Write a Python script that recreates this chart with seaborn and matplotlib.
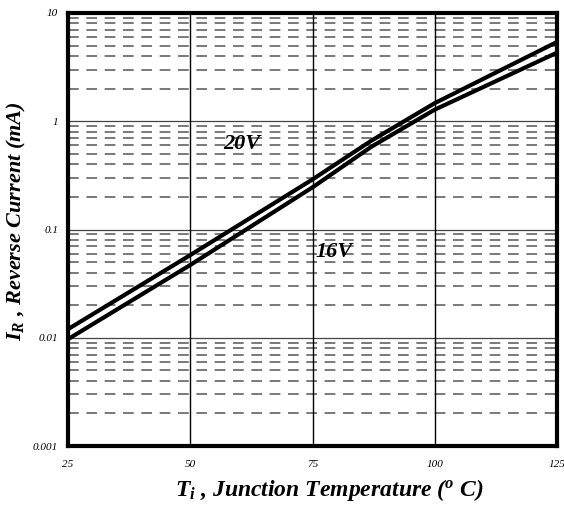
import numpy as np
import matplotlib
matplotlib.use("Agg")
import matplotlib.pyplot as plt
import seaborn as sns
import pandas as pd

# data
temps = [25, 50, 75, 87, 100, 125]
ir_20v = [0.012, 0.058, 0.29, 0.66, 1.47, 5.4]
ir_16v = [0.0097, 0.047, 0.245, 0.58, 1.28, 4.3]
series_names = ["20V", "16V"]
label_pos = {"20V": (60.5, 0.62), "16V": (79.5, 0.062)}
x_ticks = [25, 50, 75, 100, 125]
y_ticks = [0.001, 0.01, 0.1, 1, 10]
y_ticklabels = ["0.001", "0.01", "0.1", "1", "10"]

sns.set_style("white")
plt.rcParams["font.family"] = ["Liberation Serif", "DejaVu Serif"]
plt.rcParams["mathtext.fontset"] = "custom"
plt.rcParams["mathtext.it"] = "Liberation Serif:bold:italic"
plt.rcParams["mathtext.rm"] = "Liberation Serif:bold:italic"
for key in ["text.color", "axes.labelcolor", "xtick.color", "ytick.color"]:
    plt.rcParams[key] = "black"

df = pd.DataFrame({
    "T": temps * 2,
    "IR": ir_20v + ir_16v,
    "V": [series_names[0]] * len(temps) + [series_names[1]] * len(temps),
})

fig = plt.figure(figsize=(5.64, 5.08), dpi=100)
ax = fig.add_axes([68 / 564, 1 - 446 / 508, 489 / 564, 433 / 508])

ax.set_yscale("log")
ax.set_xlim(25, 125)
ax.set_ylim(0.001, 10)

# grid: dashed minor, solid major
for dec in [0.001, 0.01, 0.1, 1]:
    for m in range(2, 10):
        ax.axhline(dec * m, color="#555555", lw=1.1, ls=(0, (7, 5)), zorder=1)
for dec in [0.01, 0.1, 1]:
    ax.axhline(dec, color="#444444", lw=0.9, zorder=1)
for xv in [50, 75, 100]:
    ax.axvline(xv, color="black", lw=1.0, zorder=1)

sns.lineplot(data=df, x="T", y="IR", hue="V", palette=["black", "black"],
             linewidth=3, legend=False, ax=ax, zorder=3)

for name in series_names:
    ax.text(label_pos[name][0], label_pos[name][1], name, fontsize=16,
            fontweight="bold", style="italic", ha="center", va="center", zorder=4)

ax.set_xticks(x_ticks)
ax.set_xticklabels([str(t) for t in x_ticks], fontsize=8, style="italic")
ax.set_yticks(y_ticks)
ax.set_yticklabels(y_ticklabels, fontsize=8, style="italic")
ax.yaxis.set_minor_locator(matplotlib.ticker.NullLocator())
ax.tick_params(axis="x", length=0, pad=10)
ax.tick_params(axis="y", length=0, pad=7)

for sp in ax.spines.values():
    sp.set_linewidth(3)
    sp.set_color("black")

ax.set_xlabel(r"$T_i$ , Junction Temperature ($^o$ C)", fontsize=17,
              fontweight="bold", style="italic")
ax.set_ylabel(r"$I_R$ , Reverse Current (mA)", fontsize=16,
              fontweight="bold", style="italic")
ax.xaxis.set_label_coords(0.535, -0.072)
ax.yaxis.set_label_coords(-0.082, 0.52)

fig.savefig("out.png", dpi=100)
